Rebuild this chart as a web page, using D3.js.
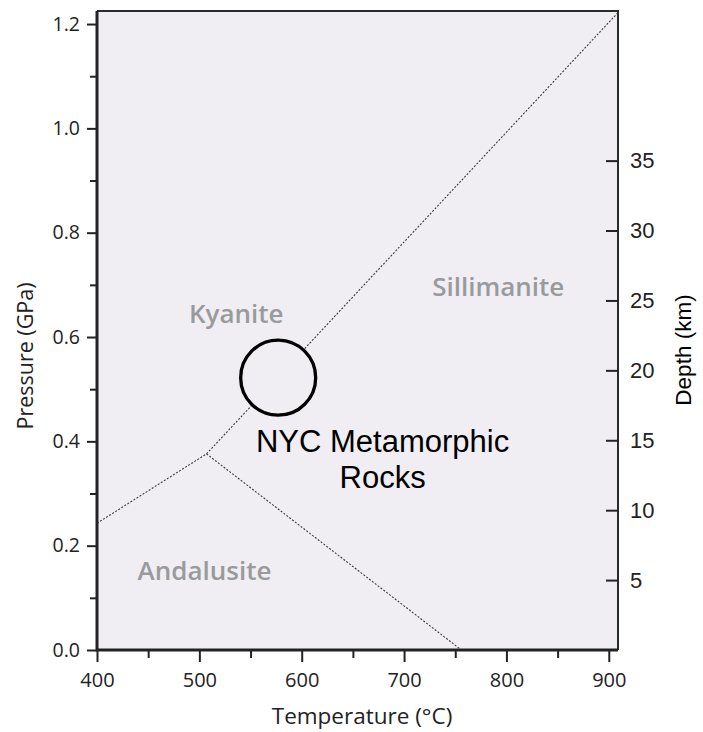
<!DOCTYPE html>
<html>
<head>
<meta charset="utf-8">
<script src="https://d3js.org/d3.v7.min.js"></script>
<style>
  body { margin: 0; background: #fff; }
  svg { display: block; }
</style>
</head>
<body>
<div id="container"></div>
<script>
// aluminosilicate phase diagram (Al2SiO5)
var tempTicks = [400, 500, 600, 700, 800, 900];
var tempMinor = [450, 550, 650, 750, 850];
var pressureTicks = [0.0, 0.2, 0.4, 0.6, 0.8, 1.0, 1.2];
var pressureMinor = [0.1, 0.3, 0.5, 0.7, 0.9, 1.1];
var depthTicks = [5, 10, 15, 20, 25, 30, 35];

// phase boundaries [temperature, pressure]
var kyaniteSillimanite = [[507, 0.376], [909, 1.222]];
var andalusiteKyanite = [[400, 0.243], [507, 0.376]];
var andalusiteSillimanite = [[507, 0.376], [756, 0.0]];

var phaseNames = ["Kyanite", "Sillimanite", "Andalusite"];
var phaseT = [536, 792, 505];
var phaseP = [0.627, 0.679, 0.134];

var nycPoint = [577, 0.522];
var nycLines = ["NYC Metamorphic", "Rocks"];
var nycLineP = [0.380, 0.311];

var width = 703, height = 732;
var margin = {top: 11, right: 85, bottom: 82, left: 97};
var bg = "#f0eef2";

var svg = d3.select("#container").append("svg")
    .attr("width", width)
    .attr("height", height);

var x = d3.scaleLinear().domain([400, 909]).range([margin.left, width - margin.right]);
var y = d3.scaleLinear().domain([0, 1.225]).range([height - margin.bottom, margin.top]);
var yDepth = d3.scaleLinear().domain([0, 45.7]).range([height - margin.bottom, margin.top]);

// plot background
svg.append("rect")
    .attr("x", x(400)).attr("y", y(1.225))
    .attr("width", x(909) - x(400)).attr("height", y(0) - y(1.225))
    .attr("fill", bg);

// frame top + right
svg.append("path")
    .attr("d", "M" + x(400) + "," + y(1.225) + "H" + x(909) + "V" + y(0))
    .attr("fill", "none").attr("stroke", "#2a2a2a").attr("stroke-width", 2);

var line = d3.line().x(function(d) { return x(d[0]); }).y(function(d) { return y(d[1]); });

[kyaniteSillimanite, andalusiteKyanite, andalusiteSillimanite].forEach(function(b) {
  svg.append("path")
      .attr("d", line(b))
      .attr("fill", "none")
      .attr("stroke", "#3a3a3a")
      .attr("stroke-width", 1.1)
      .attr("stroke-dasharray", "2,1.6");
});

// phase labels
phaseNames.forEach(function(n, i) {
  svg.append("text")
      .attr("x", x(phaseT[i])).attr("y", y(phaseP[i]))
      .attr("text-anchor", "middle")
      .attr("font-family", "'Open Sans', sans-serif")
      .attr("font-weight", 600)
      .attr("font-size", 26)
      .attr("fill", "#999a9c")
      .text(n);
});

// NYC circle (covers the boundary line)
svg.append("circle")
    .attr("cx", x(nycPoint[0])).attr("cy", y(nycPoint[1]))
    .attr("r", 37.5)
    .attr("fill", bg)
    .attr("stroke", "#000")
    .attr("stroke-width", 3.3);

nycLines.forEach(function(t, i) {
  svg.append("text")
      .attr("x", x(679)).attr("y", y(nycLineP[i]))
      .attr("text-anchor", "middle")
      .attr("font-family", "'Liberation Sans', Arial, sans-serif")
      .attr("font-size", 31)
      .attr("fill", "#000")
      .text(t);
});

// axes
function styleAxis(g, fontFamily, fontSize) {
  g.select(".domain").remove();
  g.selectAll(".tick line").attr("stroke", "#222").attr("stroke-width", 2);
  g.selectAll(".tick text")
      .attr("font-family", fontFamily)
      .attr("font-size", fontSize)
      .attr("fill", "#222");
}

var gx = svg.append("g")
    .attr("transform", "translate(0," + y(0) + ")")
    .call(d3.axisBottom(x).tickValues(tempTicks).tickSize(12).tickPadding(11).tickFormat(d3.format("d")));
styleAxis(gx, "'Open Sans', sans-serif", 20);

svg.append("g")
    .attr("transform", "translate(0," + y(0) + ")")
    .call(d3.axisBottom(x).tickValues(tempMinor).tickSize(8).tickFormat(""))
    .call(function(g) { styleAxis(g, "sans-serif", 10); });

var gy = svg.append("g")
    .attr("transform", "translate(" + x(400) + ",0)")
    .call(d3.axisLeft(y).tickValues(pressureTicks).tickSize(10).tickPadding(7).tickFormat(d3.format(".1f")));
styleAxis(gy, "'Open Sans', sans-serif", 19.5);

svg.append("g")
    .attr("transform", "translate(" + x(400) + ",0)")
    .call(d3.axisLeft(y).tickValues(pressureMinor).tickSize(7).tickFormat(""))
    .call(function(g) { styleAxis(g, "sans-serif", 10); });

var gd = svg.append("g")
    .attr("transform", "translate(" + x(909) + ",0)")
    .call(d3.axisRight(yDepth).tickValues(depthTicks).tickSizeInner(-12).tickSizeOuter(0).tickPadding(12));
styleAxis(gd, "'Liberation Sans', Arial, sans-serif", 22);
gd.selectAll(".tick text").attr("x", 12);

// axis lines
svg.append("path")
    .attr("d", "M" + x(400) + "," + y(1.225) + "V" + y(0) + "H" + x(909))
    .attr("fill", "none").attr("stroke", "#222").attr("stroke-width", 3);

// titles
svg.append("text")
    .attr("x", 362).attr("y", 724)
    .attr("text-anchor", "middle")
    .attr("font-family", "'Open Sans', sans-serif")
    .attr("font-size", 22.5)
    .attr("fill", "#222")
    .text("Temperature (°C)");

svg.append("text")
    .attr("transform", "translate(33,356) rotate(-90)")
    .attr("text-anchor", "middle")
    .attr("font-family", "'Open Sans', sans-serif")
    .attr("font-size", 21.5)
    .attr("fill", "#222")
    .text("Pressure (GPa)");

svg.append("text")
    .attr("transform", "translate(691,350) rotate(-90)")
    .attr("text-anchor", "middle")
    .attr("font-family", "'Liberation Sans', Arial, sans-serif")
    .attr("font-size", 22.5)
    .attr("fill", "#000")
    .text("Depth (km)");
</script>
</body>
</html>
